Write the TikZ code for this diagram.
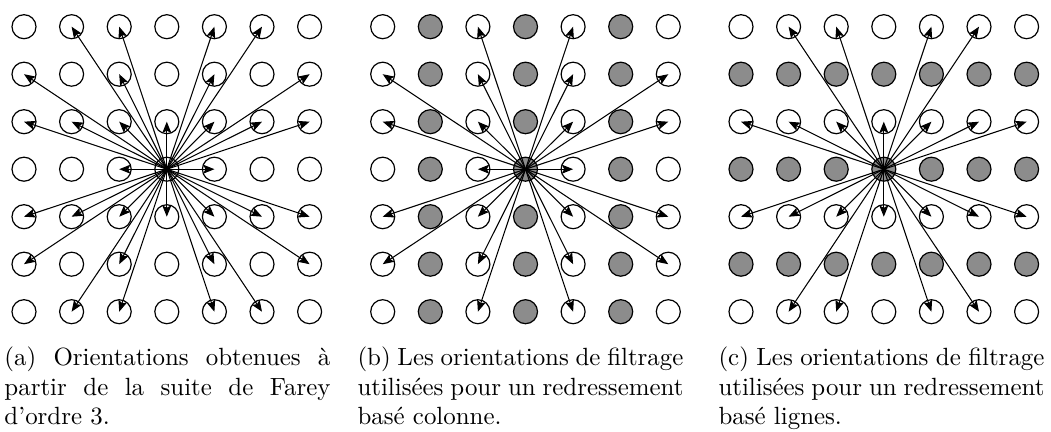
\documentclass[tikz,border=0pt]{standalone}
\usetikzlibrary{arrows.meta}
\definecolor{fillgray}{gray}{0.55}
\tikzset{
  dot/.style={circle,draw=black,line width=0.48pt,minimum size=9.64pt,inner sep=0pt,fill=white},
  gdot/.style={dot,fill=fillgray},
  arr/.style={line width=0.42pt,-{Stealth[length=4.5pt,width=3.6pt,inset=0.9pt]}},
  captext/.style={anchor=north west,inner sep=0pt,text width=130.9pt,align=justify,font=\normalsize}
}
% #1 grid name, #2 x of first column, #3 mode: 0 all, 1 columns, 2 rows
\newcommand\mkgrid[3]{%
  \foreach \i in {1,...,7}{%
    \foreach \j in {1,...,7}{%
      \pgfmathtruncatemacro\gr{(#3==1 && mod(abs(\i-4),2)==0) || (#3==2 && mod(abs(\j-4),2)==0)}%
      \ifnum\gr=1
        \node[gdot] (#1-\i-\j) at ({#2+(\i-1)*47.6},{26.7+(\j-1)*47.5}) {};
      \else
        \node[dot] (#1-\i-\j) at ({#2+(\i-1)*47.6},{26.7+(\j-1)*47.5}) {};
      \fi
    }%
  }%
  \foreach \i in {1,...,7}{%
    \foreach \j in {1,...,7}{%
      \pgfmathtruncatemacro\dx{abs(\i-4)}%
      \pgfmathtruncatemacro\dy{abs(\j-4)}%
      \pgfmathtruncatemacro\prim{!((mod(\dx,2)==0 && mod(\dy,2)==0) || (mod(\dx,3)==0 && mod(\dy,3)==0))}%
      \pgfmathtruncatemacro\use{\prim && (#3==0 || (#3==1 && mod(\dx,2)==1) || (#3==2 && mod(\dy,2)==1))}%
      \ifnum\use=1
        \draw[arr] (#1-4-4.center) -- (#1-\i-\j.center);
      \fi
    }%
  }%
}
\begin{document}
\hyphenpenalty=10000
\exhyphenpenalty=10000
\tolerance=9999
\begin{tikzpicture}[x=0.4016pt,y=-0.4016pt]
\useasboundingbox (0,0) rectangle (1051,432);
\mkgrid{a}{24}{0}
\mkgrid{b}{382.7}{1}
\mkgrid{c}{741}{2}
\node[captext] (capa) at (4,346) {(a) Orientations obtenues à\linebreak partir de la suite de Farey\linebreak d’ordre 3.};
\node[captext] (capb) at (357,346) {(b) Les orientations de filtrage\linebreak utilisées pour un redressement\linebreak basé colonne.};
\node[captext] (capc) at (718,346) {(c) Les orientations de filtrage\linebreak utilisées pour un redressement\linebreak basé lignes.};
\end{tikzpicture}
\end{document}
